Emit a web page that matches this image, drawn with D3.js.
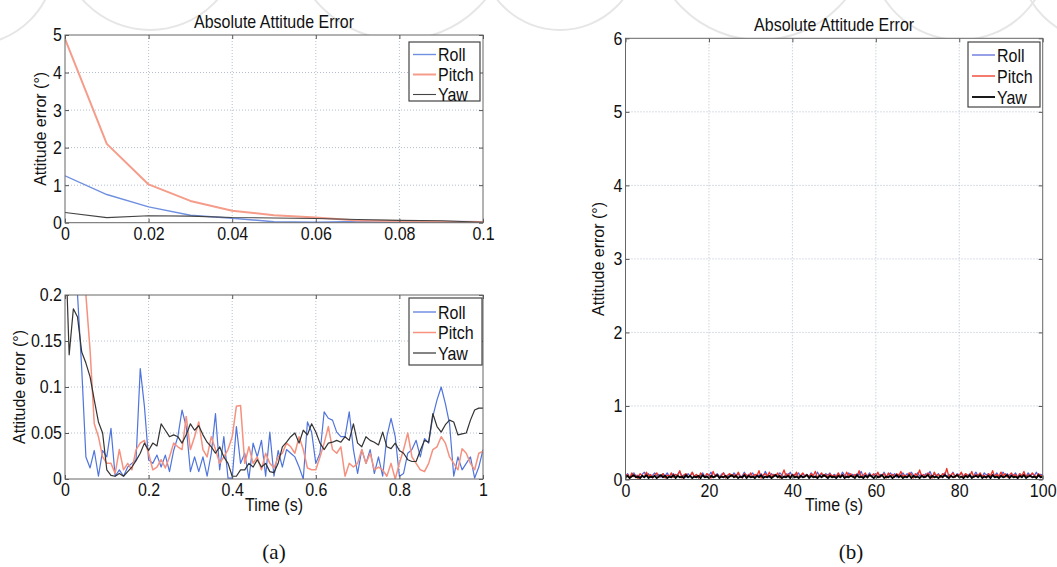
<!DOCTYPE html>
<html>
<head>
<meta charset="utf-8">
<script src="https://cdn.jsdelivr.net/npm/d3@7"></script>
<style>
  body { margin: 0; background: #fff; }
  svg text { font-family: "Liberation Sans", Arial, sans-serif; fill: #111; }
  svg text.tall { transform-box: fill-box; transform-origin: center; transform: scaleY(1.15); }
</style>
</head>
<body>
<div id="chart"></div>
<script>
// 图 (a)：0 - 1 s，步长 0.01 s
const timeA = d3.range(101).map(i => i / 100);
const rollA = [1.25,0.75,0.42,0.20,0.12,0.024,0.012,0.031,0.003,0.031,
  0.024,0.055,0.003,0.010,0.003,0.013,0.017,0.021,0.120,0.079,
  0.021,0.017,0.026,0.013,0.026,0.008,0.031,0.046,0.075,0.057,
  0.008,0.024,0.008,0.024,0.003,0.028,0.071,0.010,0.046,0.001,
  0.001,0.057,0.017,0.028,0.000,0.039,0.024,0.042,0.003,0.051,
  0.003,0.031,0.013,0.032,0.028,0.024,0.013,0.000,0.062,0.051,
  0.017,0.028,0.073,0.066,0.064,0.051,0.046,0.046,0.073,0.032,
  0.006,0.032,0.017,0.032,0.006,0.024,0.003,0.046,0.066,0.046,
  0.003,0.006,0.028,0.032,0.042,0.024,0.044,0.039,0.068,0.086,
  0.100,0.082,0.060,0.003,0.024,0.010,0.017,0.024,0.001,0.013,
  0.032];
const pitchA = [4.9,2.1,1.02,0.58,0.32,0.20,0.14,0.060,0.046,0.024,
  0.017,0.017,0.006,0.032,0.010,0.017,0.010,0.032,0.039,0.042,
  0.028,0.010,0.013,0.021,0.012,0.024,0.039,0.035,0.032,0.068,
  0.032,0.046,0.062,0.032,0.024,0.046,0.032,0.017,0.024,0.032,
  0.046,0.079,0.080,0.017,0.035,0.017,0.024,0.010,0.028,0.017,
  0.012,0.024,0.028,0.039,0.035,0.028,0.046,0.032,0.012,0.010,
  0.010,0.024,0.039,0.057,0.032,0.028,0.035,0.003,0.017,0.013,
  0.017,0.032,0.017,0.028,0.010,0.013,0.010,0.003,0.017,0.000,
  0.017,0.032,0.050,0.024,0.017,0.010,0.008,0.017,0.032,0.035,
  0.046,0.039,0.024,0.017,0.010,0.033,0.028,0.017,0.010,0.028,
  0.030];
const yawA = [0.27,0.135,0.185,0.176,0.138,0.126,0.111,0.086,0.062,0.050,
  0.010,0.004,0.003,0.006,0.003,0.008,0.013,0.020,0.028,0.039,
  0.031,0.039,0.036,0.060,0.053,0.046,0.048,0.046,0.039,0.048,
  0.060,0.053,0.058,0.048,0.040,0.035,0.028,0.035,0.024,0.017,
  0.003,0.003,0.010,0.010,0.017,0.013,0.021,0.013,0.017,0.008,
  0.007,0.017,0.035,0.040,0.046,0.050,0.039,0.053,0.048,0.060,
  0.051,0.039,0.032,0.039,0.040,0.042,0.040,0.046,0.042,0.060,
  0.039,0.035,0.046,0.042,0.040,0.037,0.051,0.035,0.033,0.039,
  0.031,0.028,0.021,0.019,0.019,0.031,0.042,0.040,0.071,0.057,
  0.051,0.059,0.064,0.062,0.048,0.049,0.050,0.064,0.075,0.077,
  0.077];

// 图 (b)：0 - 100 s，步长 0.5 s
const timeB = d3.range(201).map(i => i / 2);
const rollB = [0.05,0.08,0.03,0.07,0.09,0.04,0.06,0.02,0.07,0.10,
  0.04,0.08,0.03,0.06,0.09,0.05,0.07,0.03,0.08,0.05,
  0.09,0.04,0.06,0.08,0.03,0.07,0.11,0.05,0.06,0.03,
  0.08,0.05,0.09,0.04,0.07,0.02,0.06,0.09,0.04,0.07,
  0.05,0.10,0.03,0.06,0.08,0.04,0.07,0.09,0.05,0.03,
  0.07,0.04,0.09,0.06,0.08,0.03,0.05,0.10,0.04,0.07,
  0.06,0.09,0.03,0.07,0.05,0.08,0.04,0.11,0.06,0.03,
  0.08,0.05,0.07,0.04,0.09,0.06,0.03,0.08,0.05,0.10,
  0.04,0.07,0.06,0.09,0.03,0.08,0.05,0.07,0.04,0.09,
  0.06,0.03,0.10,0.05,0.07,0.04,0.08,0.06,0.09,0.03,
  0.07,0.05,0.08,0.04,0.10,0.06,0.03,0.09,0.05,0.07,
  0.04,0.08,0.06,0.11,0.03,0.07,0.05,0.09,0.04,0.06,
  0.08,0.03,0.07,0.05,0.10,0.04,0.06,0.09,0.05,0.08,
  0.03,0.07,0.06,0.09,0.04,0.08,0.05,0.10,0.06,0.04,
  0.09,0.05,0.07,0.03,0.08,0.06,0.11,0.04,0.07,0.05,
  0.08,0.04,0.06,0.09,0.03,0.07,0.05,0.10,0.04,0.08,
  0.06,0.09,0.05,0.07,0.04,0.08,0.03,0.06,0.10,0.05,
  0.07,0.04,0.09,0.06,0.08,0.03,0.07,0.05,0.09,0.04,
  0.06,0.10,0.05,0.08,0.04,0.07,0.06,0.09,0.03,0.08,
  0.05,0.07,0.04,0.09,0.06,0.08,0.05,0.10,0.04,0.07,
  0.06];
const pitchB = [0.03,0.07,0.02,0.09,0.04,0.06,0.01,0.08,0.05,0.03,
  0.10,0.04,0.07,0.02,0.06,0.09,0.03,0.05,0.08,0.02,
  0.06,0.04,0.09,0.03,0.07,0.05,0.12,0.02,0.06,0.08,
  0.03,0.05,0.10,0.04,0.07,0.02,0.09,0.05,0.03,0.08,
  0.06,0.02,0.11,0.04,0.07,0.03,0.05,0.09,0.02,0.06,
  0.08,0.04,0.07,0.03,0.10,0.05,0.02,0.08,0.06,0.04,
  0.09,0.03,0.07,0.05,0.12,0.02,0.06,0.08,0.04,0.10,
  0.03,0.07,0.05,0.09,0.02,0.06,0.13,0.04,0.08,0.03,
  0.07,0.05,0.10,0.02,0.06,0.09,0.04,0.07,0.03,0.08,
  0.05,0.11,0.02,0.06,0.09,0.04,0.07,0.03,0.08,0.05,
  0.06,0.03,0.09,0.04,0.07,0.02,0.10,0.05,0.08,0.03,
  0.07,0.04,0.12,0.03,0.06,0.09,0.02,0.07,0.05,0.08,
  0.04,0.10,0.03,0.06,0.08,0.02,0.09,0.05,0.07,0.03,
  0.08,0.05,0.11,0.04,0.06,0.03,0.09,0.07,0.02,0.08,
  0.05,0.13,0.04,0.07,0.03,0.09,0.06,0.02,0.10,0.05,
  0.07,0.03,0.08,0.05,0.15,0.04,0.06,0.09,0.03,0.07,
  0.05,0.10,0.02,0.08,0.06,0.04,0.11,0.03,0.07,0.05,
  0.09,0.04,0.06,0.02,0.08,0.05,0.12,0.03,0.07,0.04,
  0.10,0.05,0.08,0.03,0.06,0.09,0.04,0.07,0.02,0.08,
  0.05,0.11,0.03,0.07,0.04,0.09,0.06,0.03,0.08,0.05,
  0.06];
const yawB = [0.03,0.05,0.02,0.04,0.06,0.03,0.04,0.02,0.05,0.03,
  0.06,0.02,0.04,0.03,0.05,0.02,0.04,0.06,0.03,0.05,
  0.02,0.04,0.03,0.06,0.02,0.05,0.03,0.04,0.02,0.06,
  0.03,0.05,0.02,0.04,0.03,0.05,0.02,0.06,0.03,0.04,
  0.02,0.05,0.03,0.04,0.06,0.02,0.04,0.03,0.05,0.02,
  0.04,0.06,0.03,0.05,0.02,0.04,0.03,0.06,0.02,0.05,
  0.03,0.04,0.02,0.05,0.03,0.06,0.02,0.04,0.03,0.05,
  0.02,0.04,0.06,0.03,0.05,0.02,0.04,0.03,0.05,0.02,
  0.06,0.03,0.04,0.02,0.05,0.03,0.04,0.06,0.02,0.05,
  0.03,0.04,0.02,0.05,0.03,0.06,0.04,0.02,0.05,0.03,
  0.04,0.02,0.05,0.03,0.06,0.02,0.04,0.03,0.05,0.04,
  0.02,0.06,0.03,0.04,0.02,0.05,0.03,0.06,0.04,0.02,
  0.05,0.03,0.04,0.06,0.02,0.04,0.03,0.05,0.02,0.04,
  0.06,0.03,0.05,0.02,0.04,0.03,0.06,0.02,0.05,0.03,
  0.04,0.02,0.05,0.03,0.04,0.06,0.02,0.05,0.03,0.04,
  0.02,0.05,0.03,0.06,0.04,0.02,0.05,0.03,0.04,0.06,
  0.03,0.04,0.02,0.05,0.03,0.06,0.02,0.04,0.05,0.03,
  0.06,0.02,0.04,0.03,0.05,0.02,0.06,0.03,0.04,0.02,
  0.05,0.03,0.04,0.06,0.02,0.05,0.03,0.04,0.02,0.05,
  0.03,0.06,0.02,0.04,0.05,0.03,0.04,0.02,0.06,0.03,
  0.04];

const seriesNames = ["Roll", "Pitch", "Yaw"];
const ticksTopX = [0, 0.02, 0.04, 0.06, 0.08, 0.1];
const ticksTopY = [0, 1, 2, 3, 4, 5];
const ticksBotX = [0, 0.2, 0.4, 0.6, 0.8, 1];
const ticksBotY = [0, 0.05, 0.1, 0.15, 0.2];
const ticksBX = [0, 20, 40, 60, 80, 100];
const ticksBY = [0, 1, 2, 3, 4, 5, 6];

const width = 1057, height = 567;
const svg = d3.select("#chart").append("svg")
  .attr("width", width).attr("height", height);

// 背景水印（浅灰色圆弧）
const wm = svg.append("g").attr("fill", "none").attr("stroke", "#e6e6e6").attr("stroke-width", 2);
[[-30, -40, 85], [150, -60, 90], [400, -70, 110], [560, -50, 80], [760, -70, 110], [960, -50, 90], [1100, -40, 80]]
  .forEach(c => wm.append("circle").attr("cx", c[0]).attr("cy", c[1]).attr("r", c[2]));

let clipId = 0;

function drawPanel(p) {
  const x = d3.scaleLinear().domain(p.xDomain).range([p.left, p.right]);
  const y = d3.scaleLinear().domain(p.yDomain).range([p.bottom, p.top]);
  const g = svg.append("g");

  g.append("rect")
    .attr("x", p.left).attr("y", p.top)
    .attr("width", p.right - p.left).attr("height", p.bottom - p.top)
    .attr("fill", "#fff");

  // 网格
  g.selectAll(".gx").data(p.xTicks.slice(1, -1)).join("line")
    .attr("x1", d => x(d)).attr("x2", d => x(d))
    .attr("y1", p.top).attr("y2", p.bottom)
    .attr("stroke", "#9fb0c4").attr("stroke-width", 0.8).attr("stroke-dasharray", "1,2");
  g.selectAll(".gy").data(p.yTicks.slice(1, -1)).join("line")
    .attr("x1", p.left).attr("x2", p.right)
    .attr("y1", d => y(d)).attr("y2", d => y(d))
    .attr("stroke", "#9fb0c4").attr("stroke-width", 0.8).attr("stroke-dasharray", "1,2");

  // 曲线
  const id = "clip" + (clipId++);
  g.append("clipPath").attr("id", id).append("rect")
    .attr("x", p.left).attr("y", p.top)
    .attr("width", p.right - p.left).attr("height", p.bottom - p.top);
  const lineG = g.append("g").attr("clip-path", `url(#${id})`);
  p.series.forEach(s => {
    const pts = p.time.map((t, i) => [t, s.values[i]])
      .filter(d => d[0] <= p.xDomain[1] + 1e-9);
    lineG.append("path")
      .datum(pts)
      .attr("fill", "none")
      .attr("stroke", s.color)
      .attr("stroke-width", s.width)
      .attr("stroke-linejoin", "round")
      .attr("d", d3.line().x(d => x(d[0])).y(d => y(d[1])));
  });

  // 坐标轴（刻度朝内）
  const fmt = p.fmt;
  const ax = (axis, tx, ty, labels) => {
    const a = g.append("g").attr("transform", `translate(${tx},${ty})`).call(axis);
    a.select(".domain").remove();
    a.selectAll(".tick line").attr("stroke", "#555");
    a.selectAll("text").attr("class", "tall").style("font-size", "16px").attr("fill", "#111");
    if (!labels) a.selectAll("text").remove();
    return a;
  };
  ax(d3.axisBottom(x).tickValues(p.xTicks).tickSize(-4).tickPadding(5).tickFormat(fmt), 0, p.bottom, true);
  ax(d3.axisTop(x).tickValues(p.xTicks).tickSize(-4), 0, p.top, false);
  ax(d3.axisLeft(y).tickValues(p.yTicks).tickSize(-4).tickPadding(3).tickFormat(fmt), p.left, 0, true);
  ax(d3.axisRight(y).tickValues(p.yTicks).tickSize(-4), p.right, 0, false);

  g.append("rect")
    .attr("x", p.left).attr("y", p.top)
    .attr("width", p.right - p.left).attr("height", p.bottom - p.top)
    .attr("fill", "none").attr("stroke", "#666").attr("stroke-width", 1);

  // 标题与轴标签
  const cx = (p.left + p.right) / 2;
  if (p.title) {
    g.append("text").attr("class", "tall").attr("x", cx).attr("y", p.top - 8)
      .attr("text-anchor", "middle").style("font-size", "16px").text(p.title);
  }
  if (p.xLabel) {
    g.append("text").attr("class", "tall").attr("x", cx).attr("y", 510)
      .attr("text-anchor", "middle").style("font-size", "16px").text(p.xLabel);
  }
  const cy = (p.top + p.bottom) / 2;
  g.append("text")
    .attr("transform", `translate(${p.yLabelX},${cy}) rotate(-90)`)
    .attr("text-anchor", "middle").style("font-size", "16px")
    .text("Attitude error (°)");

  // 图例
  const L = p.legend;
  const lg = g.append("g");
  lg.append("rect").attr("x", L.x).attr("y", L.y).attr("width", L.w).attr("height", L.h)
    .attr("fill", "#fff").attr("stroke", "#444").attr("stroke-width", 1.2);
  p.series.forEach((s, i) => {
    const ry = L.y + L.first + i * L.step;
    lg.append("line").attr("x1", L.x + 4).attr("x2", L.x + 27)
      .attr("y1", ry).attr("y2", ry)
      .attr("stroke", s.color).attr("stroke-width", s.width);
    lg.append("text").attr("class", "tall").attr("x", L.x + 29).attr("y", ry + 6)
      .style("font-size", "16px").text(s.name);
  });
}

const trimFmt = d => String(+d.toFixed(3));

drawPanel({
  left: 65, right: 483, top: 35, bottom: 222.7,
  xDomain: [0, 0.1], yDomain: [0, 5],
  xTicks: ticksTopX, yTicks: ticksTopY, fmt: trimFmt,
  time: timeA,
  series: [
    {name: seriesNames[0], values: rollA, color: "#6f8fe0", width: 1.4},
    {name: seriesNames[1], values: pitchA, color: "#f59c8a", width: 2},
    {name: seriesNames[2], values: yawA, color: "#444", width: 1.1}
  ],
  title: "Absolute Attitude Error", xLabel: null, yLabelX: 46,
  legend: {x: 409, y: 42, w: 71, h: 59, first: 12.5, step: 20}
});

drawPanel({
  left: 65, right: 483, top: 295, bottom: 479,
  xDomain: [0, 1], yDomain: [0, 0.2],
  xTicks: ticksBotX, yTicks: ticksBotY, fmt: trimFmt,
  time: timeA,
  series: [
    {name: seriesNames[0], values: rollA, color: "#4f74dc", width: 1.2},
    {name: seriesNames[1], values: pitchA, color: "#f5917e", width: 1.5},
    {name: seriesNames[2], values: yawA, color: "#333", width: 1.2}
  ],
  title: null, xLabel: "Time (s)", yLabelX: 25,
  legend: {x: 409, y: 298, w: 73, h: 67, first: 14, step: 20.5}
});

drawPanel({
  left: 625.5, right: 1042.7, top: 38.3, bottom: 479.5,
  xDomain: [0, 100], yDomain: [0, 6],
  xTicks: ticksBX, yTicks: ticksBY, fmt: trimFmt,
  time: timeB,
  series: [
    {name: seriesNames[0], values: rollB, color: "#5060d8", width: 1.2},
    {name: seriesNames[1], values: pitchB, color: "#ee3322", width: 1.3},
    {name: seriesNames[2], values: yawB, color: "#000", width: 1.8}
  ],
  title: "Absolute Attitude Error", xLabel: "Time (s)", yLabelX: 604,
  legend: {x: 968, y: 42, w: 72, h: 65, first: 13, step: 21}
});

// 子图标号
svg.append("text").attr("x", 274).attr("y", 559).attr("text-anchor", "middle")
  .style("font-family", "'Liberation Serif', 'DejaVu Serif', serif").style("font-size", "21px")
  .text("(a)");
svg.append("text").attr("x", 851).attr("y", 559).attr("text-anchor", "middle")
  .style("font-family", "'Liberation Serif', 'DejaVu Serif', serif").style("font-size", "21px")
  .text("(b)");
</script>
</body>
</html>
